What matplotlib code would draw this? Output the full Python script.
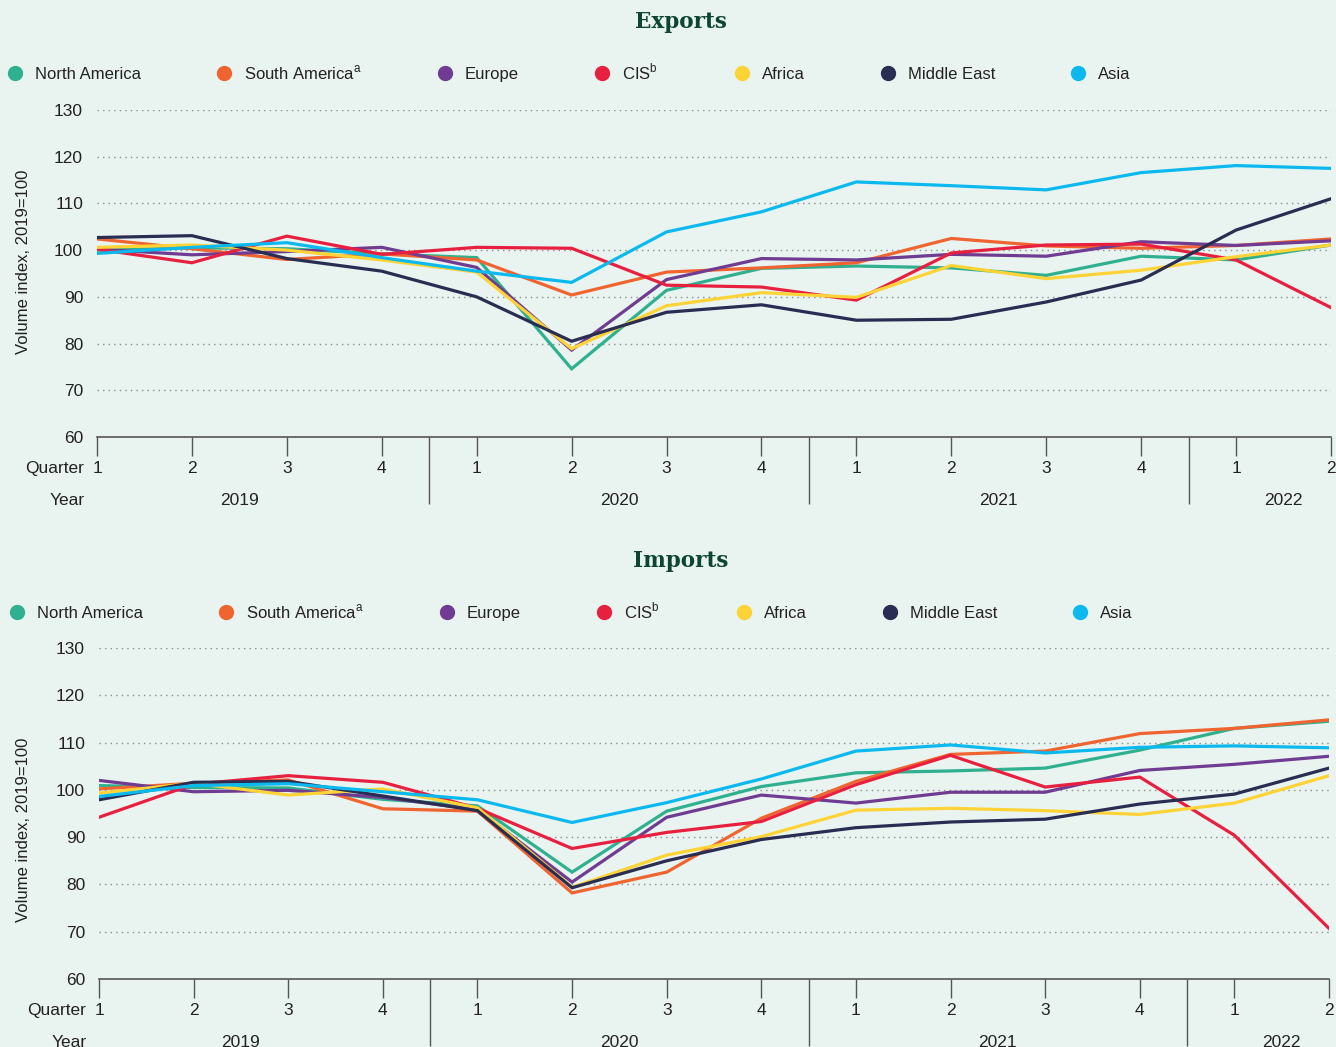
import numpy as np
import matplotlib
matplotlib.use("Agg")
import matplotlib.pyplot as plt
from matplotlib.lines import Line2D

plt.rcParams['font.family'] = ['Liberation Sans', 'DejaVu Sans']
plt.rcParams['mathtext.fontset'] = 'custom'
plt.rcParams['mathtext.rm'] = 'Liberation Sans'

quarters = ['1', '2', '3', '4', '1', '2', '3', '4', '1', '2', '3', '4', '1', '2']
years = ['2019', '2020', '2021', '2022']
year_centers = [1.5, 5.5, 9.5, 12.5]
year_breaks = [3.5, 7.5, 11.5]

regions = ['North America', r'South America$^{\rm a}$', 'Europe', r'CIS$^{\rm b}$',
           'Africa', 'Middle East', 'Asia']
colors = ['#2fb08e', '#f06430', '#6f3c91', '#e8203f', '#fdd335', '#2a2d52', '#0cb9ef']

exports_na = [100, 100.5, 100.3, 99.2, 98.4, 74.6, 91.4, 96.1, 96.6, 96.2, 94.6, 98.7, 97.9, 101.1]
exports_sa = [102.4, 100.3, 98.0, 99.2, 97.9, 90.4, 95.3, 96.2, 97.3, 102.5, 100.9, 100.4, 101.0, 102.4]
exports_eu = [100.2, 99.0, 99.7, 100.6, 96.3, 78.6, 93.7, 98.2, 97.9, 99.1, 98.7, 101.8, 101.0, 102.0]
exports_cis = [100.2, 97.3, 103.0, 99.1, 100.6, 100.4, 92.5, 92.1, 89.3, 99.4, 101.1, 101.3, 97.9, 87.7]
exports_af = [100.6, 101.1, 100.0, 97.9, 95.3, 78.9, 88.1, 90.9, 89.9, 96.7, 93.9, 95.7, 98.6, 101.1]
exports_me = [102.7, 103.1, 98.2, 95.5, 90.0, 80.5, 86.7, 88.3, 85.0, 85.2, 88.9, 93.6, 104.3, 111.0]
exports_as = [99.3, 100.6, 101.6, 98.4, 95.5, 93.1, 103.9, 108.2, 114.6, 113.8, 112.9, 116.6, 118.1, 117.5]

imports_na = [100.9, 100.5, 100.4, 98.0, 96.6, 82.6, 95.5, 100.7, 103.6, 104.0, 104.6, 108.4, 113.0, 114.5]
imports_sa = [100.2, 101.4, 102.1, 96.0, 95.5, 78.2, 82.6, 94.0, 101.8, 107.5, 108.2, 111.9, 113.0, 114.8]
imports_eu = [102.0, 99.6, 99.9, 98.4, 95.8, 80.5, 94.2, 98.9, 97.2, 99.5, 99.5, 104.1, 105.4, 107.1]
imports_cis = [94.2, 101.2, 103.0, 101.6, 96.1, 87.6, 91.0, 93.3, 101.1, 107.3, 100.6, 102.7, 90.4, 70.7]
imports_af = [99.3, 101.4, 98.9, 100.2, 96.2, 79.4, 86.2, 90.1, 95.7, 96.1, 95.6, 94.8, 97.2, 103.0]
imports_me = [97.9, 101.6, 101.8, 98.7, 95.6, 79.3, 85.0, 89.5, 92.0, 93.2, 93.8, 97.0, 99.1, 104.6]
imports_as = [98.6, 100.9, 101.3, 99.6, 97.9, 93.1, 97.3, 102.3, 108.2, 109.5, 107.8, 109.0, 109.3, 108.9]

exports = [exports_na, exports_sa, exports_eu, exports_cis, exports_af, exports_me, exports_as]
imports = [imports_na, imports_sa, imports_eu, imports_cis, imports_af, imports_me, imports_as]

bg = '#e9f3ef'
W, H = 1336, 1047
fig = plt.figure(figsize=(W / 100, H / 100), dpi=100, facecolor=bg)

x = np.arange(len(quarters))


def panel(rect, series, title, title_y, leg_x, leg_y, ylab_y):
    ax = fig.add_axes(rect)
    ax.set_facecolor(bg)
    for vals, c in zip(series, colors):
        ax.plot(x, vals, color=c, lw=2.3, solid_joinstyle='miter')
    ax.set_xlim(0, 13)
    ax.set_ylim(60, 130)
    ax.set_yticks(range(60, 131, 10))
    for yv in range(70, 131, 10):
        ax.axhline(yv, color='#8a8a8a', lw=1, ls=(0, (1, 3)), zorder=0)
    for s in ['top', 'right', 'left']:
        ax.spines[s].set_visible(False)
    ax.spines['bottom'].set_color('#555555')
    ax.spines['bottom'].set_linewidth(1.2)
    ax.tick_params(axis='y', length=0, pad=10, labelsize=12.5, colors='#222222')
    ax.set_xticks(x)
    ax.set_xticklabels(quarters)
    ax.set_xticks(year_breaks, minor=True)
    ax.tick_params(axis='x', which='major', length=14, width=1, color='#555555',
                   pad=3, labelsize=12.5, labelcolor='#222222')
    ax.tick_params(axis='x', which='minor', length=48, width=1, color='#555555')
    tr = ax.get_xaxis_transform()
    for yr, xc in zip(years, year_centers):
        ax.annotate(yr, xy=(xc, 0), xycoords=tr, xytext=(0, -46), textcoords='offset points',
                    ha='center', va='center', fontsize=12.5, color='#222222')
    ax.annotate('Quarter', xy=(0, 0), xycoords='axes fraction', xytext=(-9, -23),
                textcoords='offset points', ha='right', va='center', fontsize=12.5, color='#222222')
    ax.annotate('Year', xy=(0, 0), xycoords='axes fraction', xytext=(-9, -46),
                textcoords='offset points', ha='right', va='center', fontsize=12.5, color='#222222')
    fig.text(681 / W, 1 - title_y / H, title, ha='center', va='center', fontsize=15.5,
             fontweight='bold', family='DejaVu Serif', color='#0d4533')
    fig.text(24 / W, 1 - ylab_y / H, 'Volume index, 2019=100', rotation=90, ha='center',
             va='center', fontsize=12, color='#222222')
    handles = [Line2D([], [], ls='none', marker='o', ms=10, color=c) for c in colors]
    ax.legend(handles, regions, loc='center left', bbox_to_anchor=(leg_x, leg_y),
              bbox_transform=fig.transFigure, ncol=7, frameon=False, borderpad=0,
              borderaxespad=0, handlelength=0.8, handletextpad=0.8, columnspacing=4.6,
              fontsize=12, labelcolor='#222222')
    return ax


panel([97 / W, 1 - 437 / H, 1234 / W, 327 / H], exports, 'Exports', 22, 8 / W, 1 - 72 / H, 262)
panel([99 / W, 1 - 979 / H, 1230 / W, 331 / H], imports, 'Imports', 561, 10 / W, 1 - 611 / H, 830)

fig.savefig('out.png', dpi=100, facecolor=bg)
